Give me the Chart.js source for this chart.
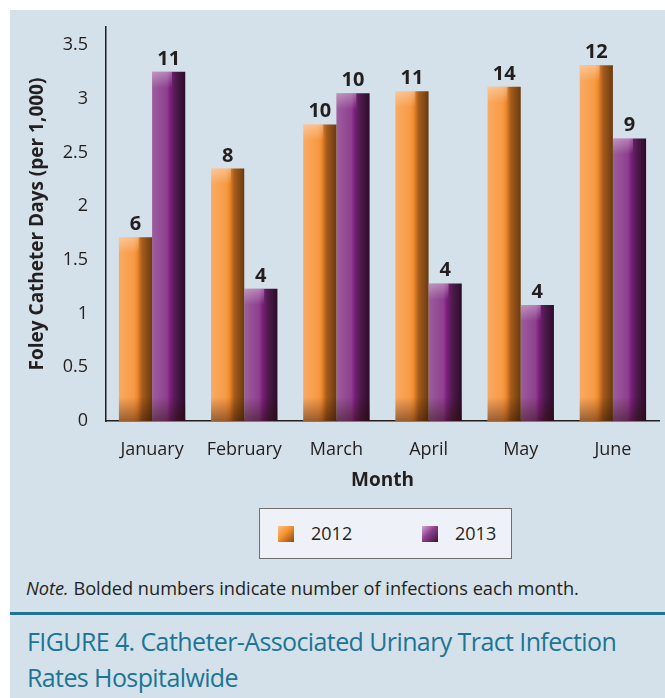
<!DOCTYPE html>
<html>
<head>
<meta charset="utf-8">
<script src="https://cdn.jsdelivr.net/npm/chart.js@4/dist/chart.umd.min.js"></script>
<style>
  body { margin: 0; background: #fff; font-family: "Open Sans", sans-serif; color: #231f20; }
  #panel { position: absolute; left: 10px; top: 10px; width: 655px; height: 688px; background: #d5e1ea; overflow: hidden; }
  #wrap { position: absolute; left: 0; top: 0; width: 655px; height: 490px; }
  #legend { position: absolute; left: 249px; top: 498px; width: 253px; height: 51px; box-sizing: border-box;
            border: 1.5px solid #6f6f6f; background: #eef2f8; font-size: 18px; }
  .item { position: absolute; top: 0; height: 48px; line-height: 48px; }
  .sw { position: absolute; top: 17px; width: 16px; height: 16px; }
  .txt { position: absolute; white-space: nowrap; }
  #note { position: absolute; left: 16px; top: 568px; font-size: 18.2px; line-height: 20px; white-space: nowrap; }
  #rule { position: absolute; left: 0; top: 602px; width: 655px; height: 2.5px; background: #1f7394; }
  #title { position: absolute; left: 17px; top: 613px; font-size: 25px; line-height: 36px; color: #1b7595;
           white-space: nowrap; letter-spacing: -0.6px; }
</style>
</head>
<body>
<div id="panel">
  <div id="wrap"><canvas id="chart"></canvas></div>
  <div id="legend"></div>
  <div id="note"><i>Note.</i> Bolded numbers indicate number of infections each month.</div>
  <div id="rule"></div>
  <div id="title">FIGURE 4. Catheter-Associated Urinary Tract Infection<br>Rates Hospitalwide</div>
</div>
<script>
const months = ['January', 'February', 'March', 'April', 'May', 'June'];
const seriesNames = ['2012', '2013'];
const rate2012 = [1.71, 2.35, 2.76, 3.07, 3.11, 3.31];
const rate2013 = [3.25, 1.23, 3.05, 1.28, 1.08, 2.63];
const infections2012 = [6, 8, 10, 11, 14, 12];
const infections2013 = [11, 4, 10, 4, 4, 9];
const yTickLabels = ['0', '0.5', '1', '1.5', '2', '2.5', '3', '3.5'];

const infections = [infections2012, infections2013];
const CAT_PCT = 0.72;

const shades = [
  [[0, '#f9aa63'], [0.45, '#f89a45'], [0.55, '#f08a2c'], [0.7, '#a65c1c'], [1, '#6a3a10']],
  [[0, '#9d5e9e'], [0.45, '#8e3f8e'], [0.55, '#7a1f7c'], [0.72, '#4e1a4c'], [1, '#2c0c2a']]
];
const flat = ['#f39433', '#7d3a7e'];

function barFill(c) {
  const chart = c.chart;
  const xs = chart.scales.x;
  if (!xs || !chart.chartArea || c.dataIndex === undefined) return flat[c.datasetIndex];
  const center = xs.getPixelForValue(c.dataIndex);
  const w = xs.width / months.length * CAT_PCT / 2;
  const left = c.datasetIndex === 0 ? center - w : center;
  const g = chart.ctx.createLinearGradient(left, 0, left + w, 0);
  shades[c.datasetIndex].forEach(s => g.addColorStop(s[0], s[1]));
  return g;
}

// shading at bottom and glow at top of each bar, plus the bold counts
const barDecor = {
  id: 'barDecor',
  afterDatasetsDraw(chart) {
    const ctx = chart.ctx;
    ctx.save();
    chart.data.datasets.forEach((ds, di) => {
      chart.getDatasetMeta(di).data.forEach((el, i) => {
        const l = el.x - el.width / 2, r = el.x + el.width / 2;
        const g = ctx.createLinearGradient(0, el.base - 24, 0, el.base);
        g.addColorStop(0, 'rgba(40,10,0,0)');
        g.addColorStop(1, 'rgba(40,10,0,0.45)');
        ctx.fillStyle = g;
        ctx.fillRect(l, el.base - 24, r - l, 24);
        const h = ctx.createLinearGradient(0, el.y, 0, el.y + 16);
        h.addColorStop(0, 'rgba(255,255,255,0.35)');
        h.addColorStop(1, 'rgba(255,255,255,0)');
        ctx.fillStyle = h;
        ctx.fillRect(l, el.y, (r - l) * 0.6, 16);

        ctx.fillStyle = '#231f20';
        ctx.font = 'bold 20px "Open Sans", sans-serif';
        ctx.textAlign = 'center';
        ctx.textBaseline = 'alphabetic';
        ctx.fillText(String(infections[di][i]), el.x, el.y - 7);
      });
    });
    ctx.restore();
  }
};

new Chart(document.getElementById('chart'), {
  type: 'bar',
  data: {
    labels: months,
    datasets: [
      { label: seriesNames[0], data: rate2012, backgroundColor: barFill },
      { label: seriesNames[1], data: rate2013, backgroundColor: barFill }
    ]
  },
  options: {
    responsive: true,
    maintainAspectRatio: false,
    animation: false,
    categoryPercentage: CAT_PCT,
    barPercentage: 1,
    layout: { padding: { top: 17, right: 6, left: 0, bottom: 0 } },
    plugins: { legend: { display: false }, tooltip: { enabled: false } },
    scales: {
      x: {
        grid: { display: false, drawTicks: false },
        border: { display: true, color: '#231f20', width: 1.5 },
        ticks: { color: '#231f20', padding: 18, font: { family: 'Open Sans', size: 18 } },
        title: { display: true, text: 'Month', color: '#231f20', padding: { top: 0, bottom: 8 },
                 font: { family: 'Open Sans', size: 19, weight: 'bold' } },
        afterFit(s) { s.height = 79; s.paddingLeft = 0; s.paddingRight = 0; }
      },
      y: {
        min: 0, max: 3.667,
        grid: { display: false, drawTicks: false },
        border: { display: true, color: '#231f20', width: 1.5 },
        ticks: { stepSize: 0.5, includeBounds: false, color: '#231f20', padding: 18,
                 font: { family: 'Open Sans', size: 18 },
                 callback: (v, i) => yTickLabels[i] },
        title: { display: true, text: 'Foley Catheter Days (per 1,000)', color: '#231f20',
                 padding: { top: 16, bottom: 0 },
                 font: { family: 'Open Sans', size: 19, weight: 'bold' } },
        afterFit(s) { s.width = 96; s.paddingTop = 0; s.paddingBottom = 0; }
      }
    }
  },
  plugins: [barDecor]
});

// legend box
const legend = document.getElementById('legend');
const swatches = [
  'linear-gradient(135deg, #fcc08a 0%, #f5912f 45%, #8a4a14 100%)',
  'linear-gradient(135deg, #d3a6d3 0%, #8e3f8e 45%, #3a1238 100%)'
];
const itemX = [18, 162];
seriesNames.forEach((name, i) => {
  const item = document.createElement('div');
  item.className = 'item';
  item.style.left = itemX[i] + 'px';
  item.innerHTML = '<div class="sw" style="background:' + swatches[i] + '"></div>' +
                   '<div class="txt" style="left:33px">' + name + '</div>';
  legend.appendChild(item);
});
</script>
</body>
</html>
